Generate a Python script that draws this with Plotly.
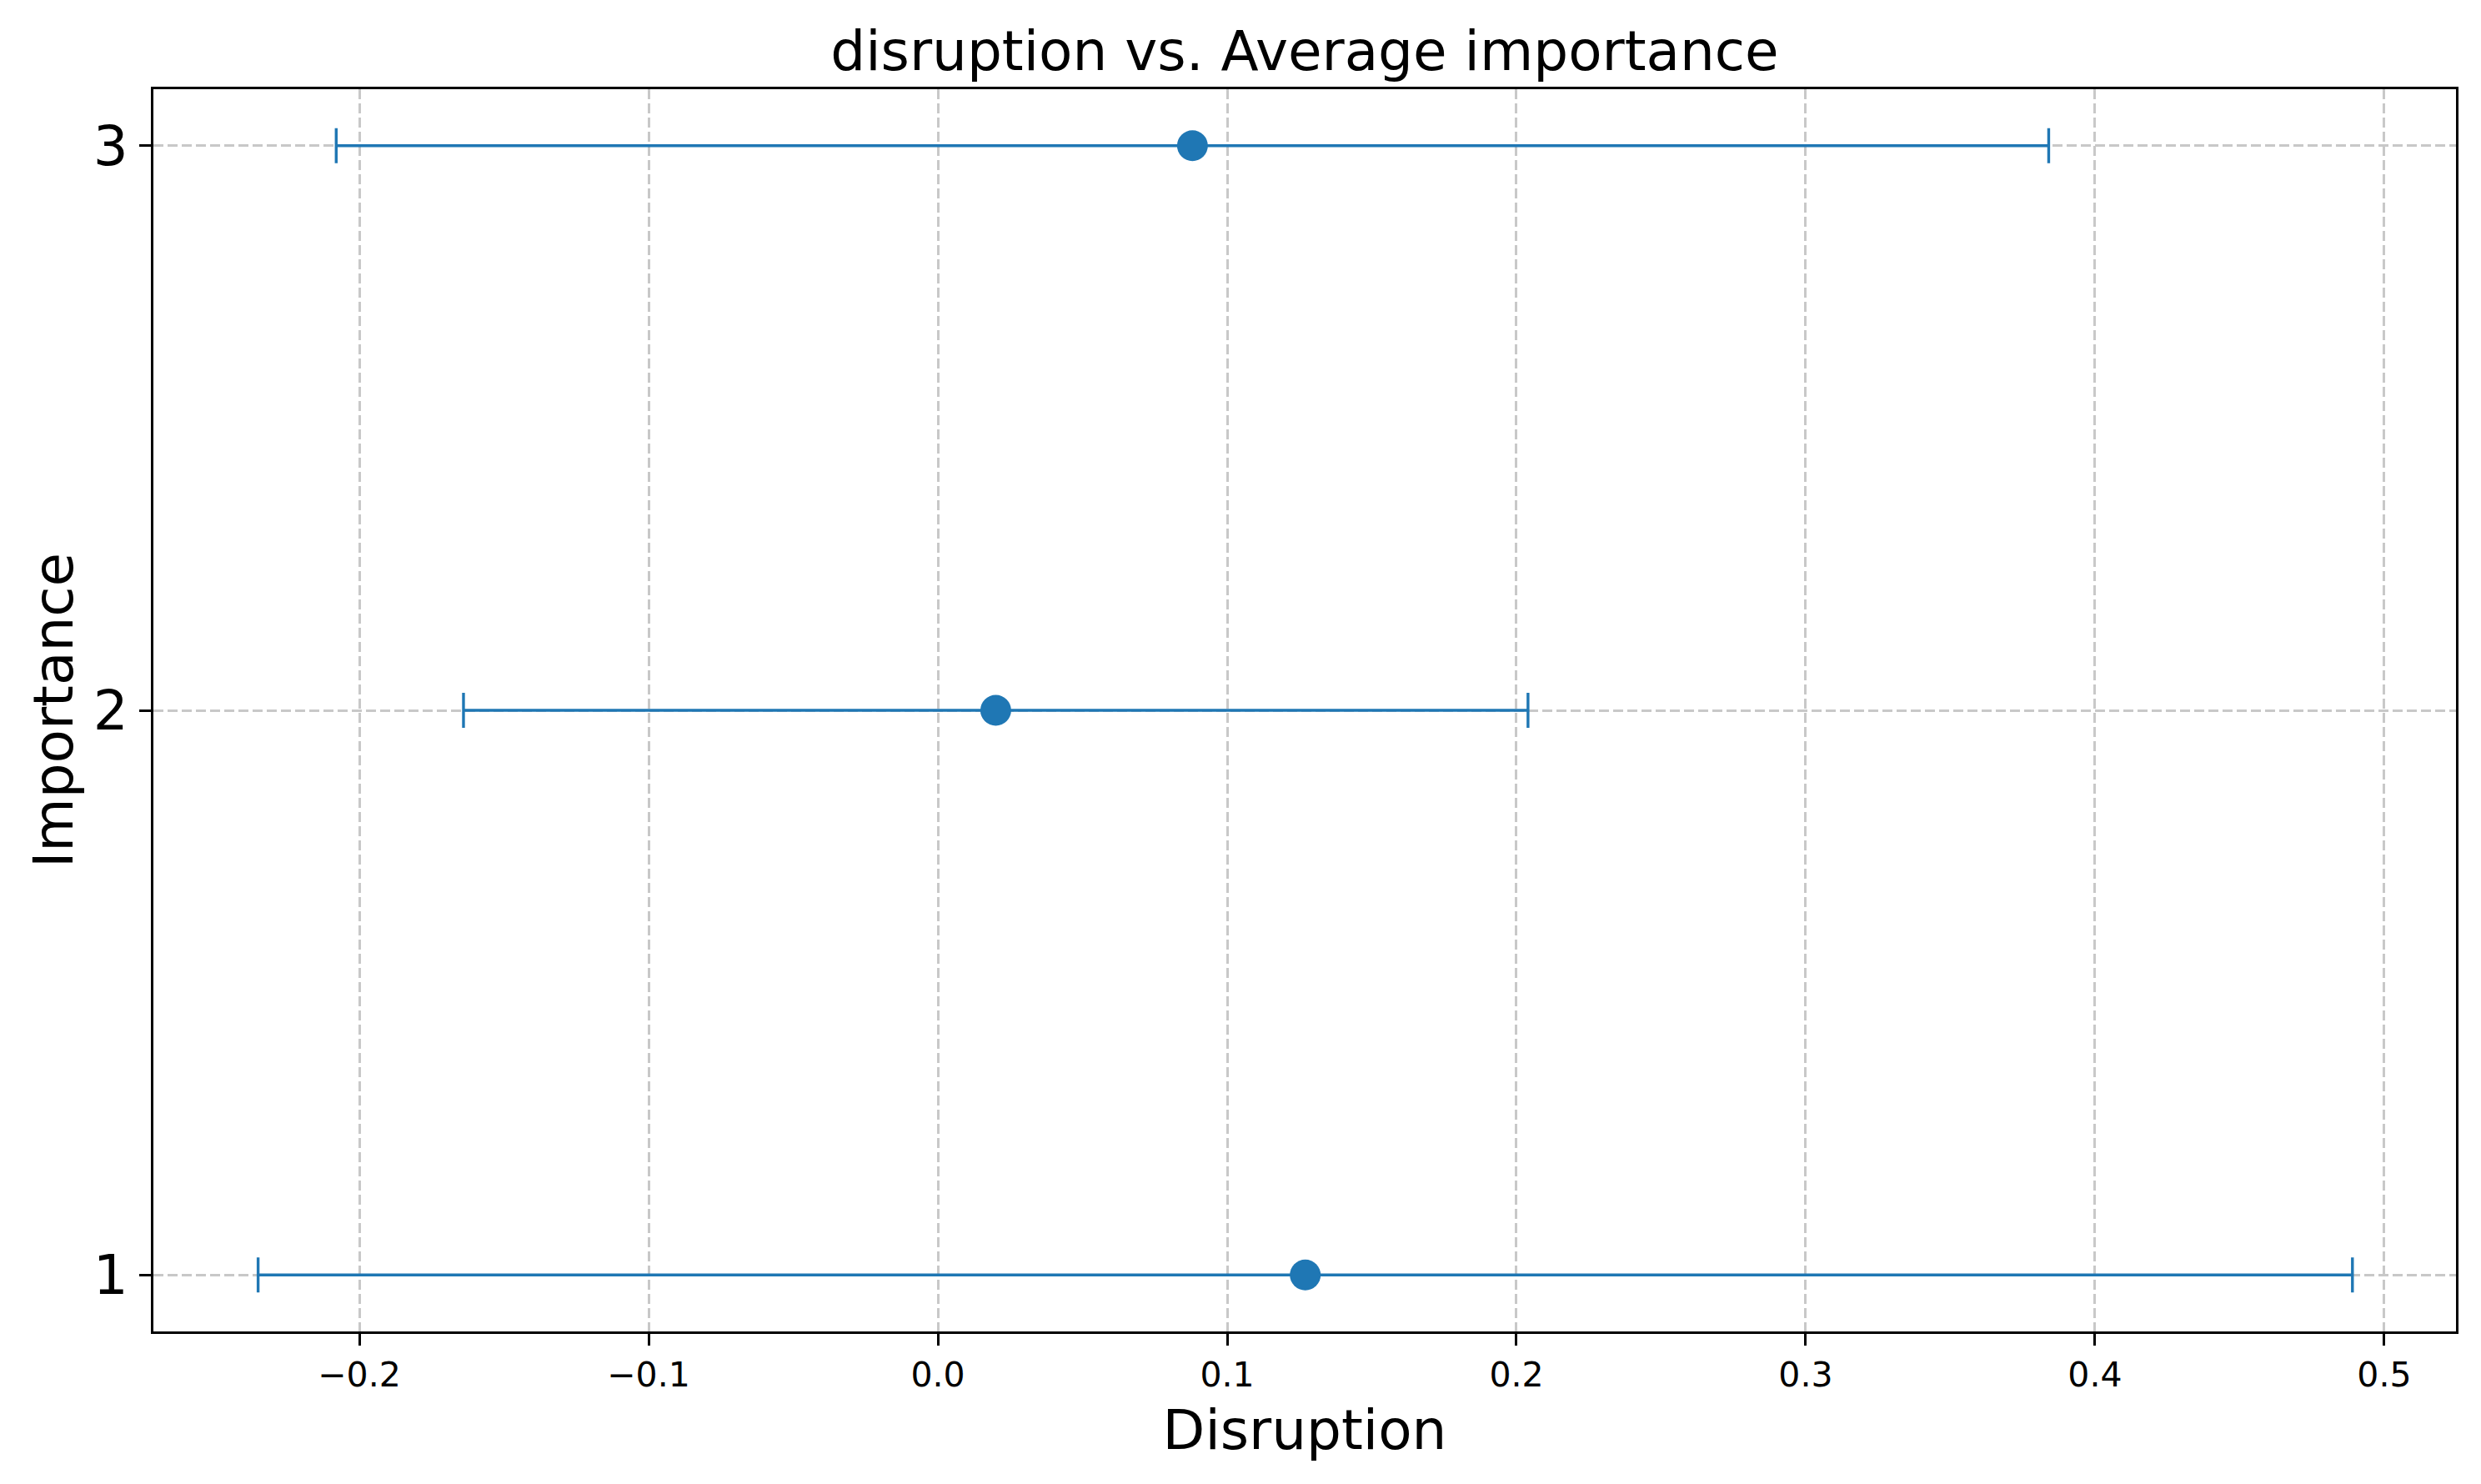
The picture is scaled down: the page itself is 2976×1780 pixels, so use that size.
import plotly.graph_objects as go

# importance levels and disruption stats
importance = [1, 2, 3]
mean_disruption = [0.127, 0.020, 0.088]
err_disruption = [0.362, 0.184, 0.296]

x_ticks = [-0.2, -0.1, 0.0, 0.1, 0.2, 0.3, 0.4, 0.5]
y_ticks = [1, 2, 3]

blue = '#1f77b4'
grid = '#c8c8c8'
font = 'DejaVu Sans'

# page body has an 8px margin, so the figure is 8px smaller than the window
W, H = 2968, 1772

fig = go.Figure()
fig.add_trace(go.Scatter(
    x=mean_disruption,
    y=importance,
    mode='markers',
    marker=dict(color=blue, size=37, line=dict(width=0)),
    error_x=dict(type='data', array=err_disruption, visible=True,
                 color=blue, thickness=3.4, width=21),
    showlegend=False,
))

fig.update_layout(
    width=W,
    height=H,
    margin=dict(l=176, r=30, t=99, b=183),
    paper_bgcolor='white',
    plot_bgcolor='white',
    font=dict(family=font, color='black'),
    title=dict(text='disruption vs. Average importance', x=0.5, xref='paper',
               y=1 - 76 / H, yref='container', yanchor='bottom',
               font=dict(size=66, family=font, color='black')),
)

fig.update_xaxes(
    range=[-0.2712, 0.5248],
    tickvals=x_ticks,
    tickformat='.1f',
    tickfont=dict(size=41, family=font, color='black'),
    ticks='outside', ticklen=14, tickwidth=3.3, tickcolor='black',
    showline=True, linewidth=3.3, linecolor='black', mirror=True,
    showgrid=True, gridcolor=grid, gridwidth=3.3, griddash='12px,5px',
    zeroline=False,
    title=dict(text='Disruption', font=dict(size=66, family=font, color='black'), standoff=20),
)
fig.update_yaxes(
    range=[0.9, 3.1],
    tickvals=y_ticks,
    tickfont=dict(size=66, family=font, color='black'),
    ticks='outside', ticklen=14, tickwidth=3.3, tickcolor='black',
    showline=True, linewidth=3.3, linecolor='black', mirror=True,
    showgrid=True, gridcolor=grid, gridwidth=3.3, griddash='12px,5px',
    zeroline=False,
    title=dict(text='Importance', font=dict(size=66, family=font, color='black'), standoff=3),
)

fig.write_html('out.html')
